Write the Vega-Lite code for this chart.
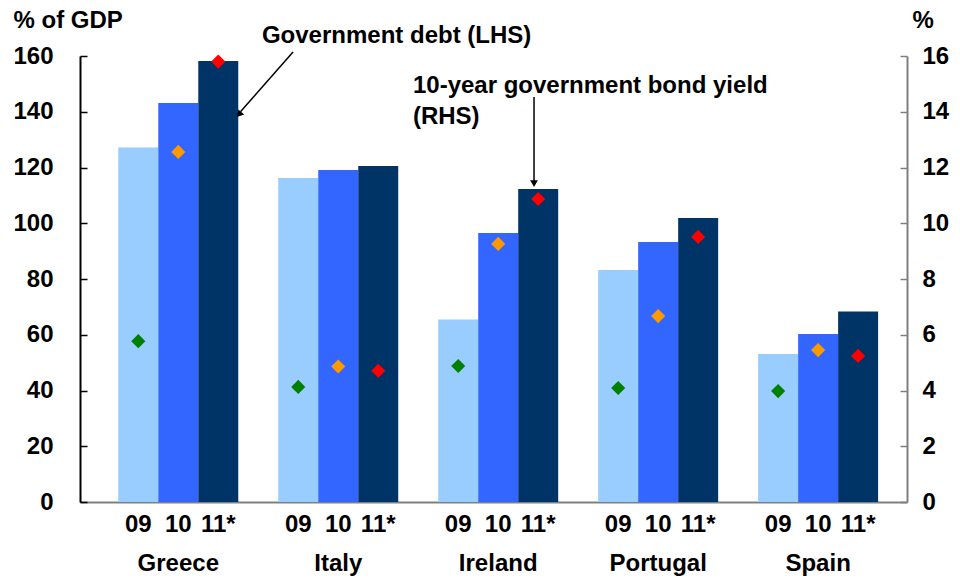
{
  "$schema": "https://vega.github.io/schema/vega-lite/v6.json",
  "width": 827,
  "height": 446,
  "autosize": {"type": "none"},
  "padding": {"left": 80, "top": 56, "right": 53, "bottom": 79},
  "background": "white",
  "config": {
    "view": {"stroke": null},
    "font": "Liberation Sans",
    "axis": {"labelFont": "Liberation Sans", "labelFontWeight": "bold", "labelFontSize": 24, "labelColor": "black", "titleFont": "Liberation Sans", "titleFontWeight": "bold", "titleFontSize": 24, "titleColor": "black", "grid": false}
  },
  "datasets": {
    "countries": [
      {"country": "Greece", "year": "09", "debt": 127.2, "yield": 5.77},
      {"country": "Greece", "year": "10", "debt": 143.1, "yield": 12.56},
      {"country": "Greece", "year": "11*", "debt": 158.2, "yield": 15.8},
      {"country": "Italy", "year": "09", "debt": 116.2, "yield": 4.13},
      {"country": "Italy", "year": "10", "debt": 119.1, "yield": 4.86},
      {"country": "Italy", "year": "11*", "debt": 120.5, "yield": 4.71},
      {"country": "Ireland", "year": "09", "debt": 65.5, "yield": 4.88},
      {"country": "Ireland", "year": "10", "debt": 96.5, "yield": 9.26},
      {"country": "Ireland", "year": "11*", "debt": 112.3, "yield": 10.87},
      {"country": "Portugal", "year": "09", "debt": 83.2, "yield": 4.09},
      {"country": "Portugal", "year": "10", "debt": 93.3, "yield": 6.67},
      {"country": "Portugal", "year": "11*", "debt": 101.9, "yield": 9.51},
      {"country": "Spain", "year": "09", "debt": 53.1, "yield": 3.98},
      {"country": "Spain", "year": "10", "debt": 60.3, "yield": 5.45},
      {"country": "Spain", "year": "11*", "debt": 68.3, "yield": 5.24}
    ]
  },
  "layer": [
    {
      "data": {"name": "countries"},
      "encoding": {
        "x": {"field": "country", "type": "nominal", "sort": ["Greece", "Italy", "Ireland", "Portugal", "Spain"],
              "scale": {"type": "band", "paddingInner": 0.25, "paddingOuter": 0.21, "align": 0.57},
              "axis": {"title": null, "ticks": false, "labelAngle": 0, "labelPadding": 61, "labelBaseline": "middle", "domainColor": "#808080", "domainWidth": 2}},
        "xOffset": {"field": "year", "type": "nominal", "sort": ["09", "10", "11*"], "scale": {"paddingInner": 0, "paddingOuter": 0}}
      },
      "layer": [
        {
          "mark": {"type": "bar"},
          "encoding": {
            "y": {"field": "debt", "type": "quantitative", "scale": {"domain": [0, 160]},
                  "axis": {"orient": "left", "values": [0, 20, 40, 60, 80, 100, 120, 140, 160], "title": "% of GDP", "titleAngle": 0, "titleAlign": "left", "titleBaseline": "middle", "titleX": -67, "titleY": -36, "domainColor": "black", "domainWidth": 2, "tickColor": "black", "tickSize": -7, "tickWidth": 1.5, "labelPadding": 34}},
            "color": {"field": "year", "type": "nominal", "sort": ["09", "10", "11*"], "scale": {"range": ["#99CCFF", "#3366FF", "#003366"]}, "legend": null}
          }
        },
        {
          "mark": {"type": "point", "shape": "diamond", "filled": true, "size": 200, "opacity": 1},
          "encoding": {
            "y": {"field": "yield", "type": "quantitative", "scale": {"domain": [0, 16]},
                  "axis": {"orient": "right", "values": [0, 2, 4, 6, 8, 10, 12, 14, 16], "title": "%", "titleAngle": 0, "titleAlign": "left", "titleBaseline": "middle", "titleX": 5, "titleY": -36, "domainColor": "#808080", "domainWidth": 2, "tickColor": "#808080", "tickSize": -7, "tickWidth": 1.5, "labelPadding": 22}},
            "fill": {"field": "year", "type": "nominal", "sort": ["09", "10", "11*"], "scale": {"range": ["#008000", "#FF9900", "#FF0000"]}, "legend": null}
          }
        },
        {
          "mark": {"type": "text", "font": "Liberation Sans", "fontWeight": "bold", "fontSize": 24, "color": "black", "baseline": "middle", "align": "center"},
          "encoding": {
            "y": {"datum": -8.3, "type": "quantitative", "scale": {"domain": [0, 160]}, "axis": null},
            "text": {"field": "year", "type": "nominal"}
          }
        }
      ],
      "resolve": {"scale": {"y": "independent"}}
    },
    {
      "layer": [
        {
          "data": {"values": [
            {"x": 1.288, "y": 161.4, "x2": 0.97, "y2": 140.0},
            {"x": 2.745, "y": 145.3, "x2": 2.745, "y2": 115.0}
          ]},
          "mark": {"type": "rule", "color": "black", "strokeWidth": 1.5},
          "encoding": {
            "x": {"field": "x", "type": "quantitative", "scale": {"domain": [0, 5]}, "axis": null},
            "y": {"field": "y", "type": "quantitative", "scale": {"domain": [0, 160]}, "axis": null},
            "x2": {"field": "x2"},
            "y2": {"field": "y2"}
          }
        },
        {
          "data": {"values": [{"x": 0.962, "y": 139.0}]},
          "mark": {"type": "point", "shape": "triangle-up", "filled": true, "color": "black", "size": 60, "angle": 220, "opacity": 1},
          "encoding": {
            "x": {"field": "x", "type": "quantitative"},
            "y": {"field": "y", "type": "quantitative"}
          }
        },
        {
          "data": {"values": [{"x": 2.745, "y": 114.2}]},
          "mark": {"type": "point", "shape": "triangle-down", "filled": true, "color": "black", "size": 60, "opacity": 1},
          "encoding": {
            "x": {"field": "x", "type": "quantitative"},
            "y": {"field": "y", "type": "quantitative"}
          }
        },
        {
          "data": {"values": [
            {"x": 1.1, "y": 167.2, "label": "Government debt (LHS)"},
            {"x": 2.013, "y": 149.2, "label": "10-year government bond yield"},
            {"x": 2.013, "y": 138.1, "label": "(RHS)"}
          ]},
          "mark": {"type": "text", "font": "Liberation Sans", "fontWeight": "bold", "fontSize": 24, "color": "black", "align": "left", "baseline": "middle"},
          "encoding": {
            "x": {"field": "x", "type": "quantitative"},
            "y": {"field": "y", "type": "quantitative"},
            "text": {"field": "label", "type": "nominal"}
          }
        }
      ]
    }
  ],
  "resolve": {"scale": {"x": "independent", "y": "independent"}}
}
